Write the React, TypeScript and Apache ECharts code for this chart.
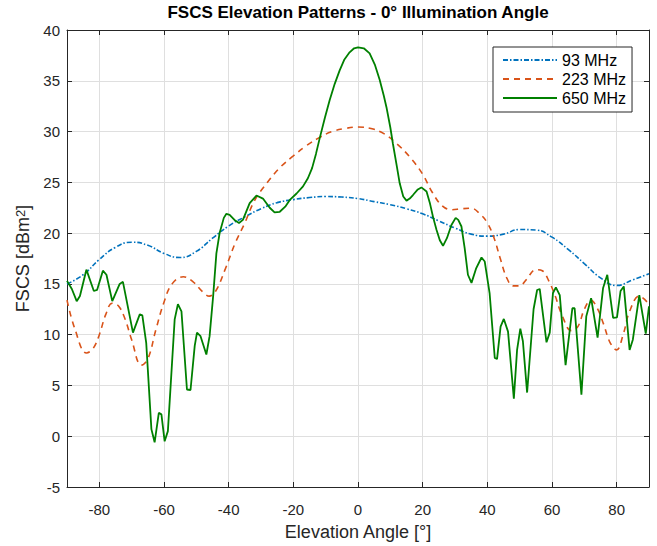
import React, { useEffect, useRef } from "react";
import * as echarts from "echarts";

const xTicks = [-80, -60, -40, -20, 0, 20, 40, 60, 80];

const angles93 = [-90, -85, -80, -75, -70, -65, -60, -55, -50, -45, -40, -35, -30, -25, -20, -15, -10, -5, 0, 5, 10, 15, 20, 25, 30, 35, 40, 45, 50, 55, 60, 65, 70, 75, 80, 85, 90];
const fscs93 = [15.0, 15.9, 17.4, 18.6, 19.1, 18.8, 18.0, 17.6, 18.2, 19.5, 20.7, 21.6, 22.4, 23.0, 23.3, 23.5, 23.6, 23.55, 23.4, 23.1, 22.8, 22.4, 21.9, 21.2, 20.5, 19.9, 19.7, 19.9, 20.35, 20.3, 19.6, 18.4, 17.0, 15.6, 14.85, 15.4, 16.0];

const angles223 = [-90, -87.5, -84, -82, -80, -78, -76, -74, -72, -70, -67, -65, -62.5, -60, -57.5, -54, -51, -48, -46, -44, -41, -38, -35, -32, -28, -24, -20, -16, -12, -8, -4, 0, 4, 8, 12, 16, 20, 23, 26, 29, 32, 35, 38, 40, 42, 44, 46, 48, 50, 52, 55, 57, 59, 61, 63, 66, 68, 70, 72, 74, 76, 78, 80, 82, 84, 87, 90];
const fscs223 = [13.4, 10.5, 8.2, 8.6, 10.0, 12.0, 13.1, 12.8, 11.5, 9.5, 7.0, 7.6, 10.5, 13.2, 15.0, 15.7, 15.2, 14.2, 13.8, 14.3, 16.5, 19.0, 21.0, 23.2, 25.0, 26.5, 27.6, 28.6, 29.4, 30.0, 30.3, 30.45, 30.3, 29.8, 28.8, 27.5, 25.8, 24.0, 22.7, 22.3, 22.4, 22.45, 21.8, 21.0, 19.6, 17.5, 15.6, 14.8, 14.8, 15.4, 16.4, 16.3, 15.3, 13.8, 12.0, 10.4, 10.8, 12.5, 13.4, 12.6, 11.0, 9.2, 8.5, 10.0, 12.3, 13.8, 13.0];

const angles650 = [-90, -88.5, -87, -86, -84, -81.7, -80.7, -78.9, -77.8, -76, -73.7, -72.7, -69.6, -67.5, -66.7, -65.5, -63.9, -62.9, -61.6, -60.8, -59.8, -58.8, -56.7, -55.7, -54.6, -52.9, -51.8, -50.5, -49.8, -48.7, -46.9, -45.9, -44.8, -43.8, -42.8, -41.5, -40.7, -39.7, -38.2, -36.8, -35.6, -33.5, -31.4, -29.4, -27.3, -25.8, -24.2, -22.5, -21, -19, -17, -15.5, -14.2, -13, -11.8, -10.2, -8.75, -7.2, -5.7, -4.2, -2.6, -1.2, 0, 1.8, 3.6, 5.2, 6.7, 8.0, 8.8, 10.0, 10.8, 12.0, 12.9, 14, 15.0, 16, 17.0, 18.5, 19.6, 21.2, 22.2, 23.2, 24.3, 25.3, 26.3, 27.5, 28.9, 30.2, 31, 32.0, 33, 34.0, 35.1, 36.5, 38.2, 39.2, 40.7, 42.3, 43.0, 44.1, 45.1, 46.4, 48.2, 49.2, 50.2, 51.0, 52.3, 54.3, 55.4, 56.2, 58.3, 59.3, 60.3, 61.2, 62.4, 64.2, 66.3, 67.0, 69.1, 70.6, 72.1, 74.1, 75.8, 77.1, 78.9, 80.1, 81.2, 82.2, 84.0, 85.0, 87.0, 89.0, 90];
const fscs650 = [15.3, 14.5, 13.3, 13.8, 16.4, 14.3, 14.4, 16.3, 15.9, 13.3, 15.0, 15.2, 10.2, 12.0, 11.9, 9.2, 0.7, -0.6, 2.3, 2.15, -0.5, 0.5, 11.5, 13.0, 12.3, 4.6, 4.55, 8.9, 10.2, 9.85, 8.05, 9.85, 13.8, 18.0, 20.0, 21.5, 21.9, 21.8, 21.3, 21.0, 21.3, 22.95, 23.7, 23.4, 22.5, 22.05, 22.1, 22.6, 23.3, 23.9, 24.6, 25.4, 26.4, 27.8, 29.4, 31.4, 33.1, 34.7, 36.0, 37.1, 37.8, 38.2, 38.3, 38.2, 37.7, 36.6, 35.1, 33.5, 32.4, 30.4, 28.8, 26.6, 24.9, 23.6, 23.2, 23.4, 23.75, 24.3, 24.5, 24.1, 23.0, 21.6, 20.3, 19.3, 18.75, 19.5, 20.8, 21.5, 21.3, 20.65, 18.5, 15.9, 15.1, 16.5, 17.6, 17.2, 14.1, 7.7, 7.6, 10.8, 11.55, 10.3, 3.7, 8.5, 10.6, 9.35, 4.3, 12.5, 14.4, 14.5, 9.25, 10.2, 14.1, 14.65, 13.9, 7.0, 12.6, 12.6, 4.1, 11.8, 13.6, 9.7, 14.6, 15.9, 11.65, 11.7, 14.3, 14.75, 8.5, 9.5, 13.9, 10.1, 12.8];

const seriesNames = ["93 MHz", "223 MHz", "650 MHz"];

const zip = (xs: number[], ys: number[]) => xs.map((x, i) => [x, ys[i]]);

const font = "'Liberation Sans', Arial, Helvetica, sans-serif";
const axisColor = "#262626";
const gridColor = "#dfdfdf";

export default function App() {
  const ref = useRef<HTMLDivElement>(null);
  useEffect(() => {
    document.body.style.margin = "0";
    const chart = echarts.init(ref.current!, null, { renderer: "svg" });
    const baseX: any = {
      type: "value",
      min: -90,
      max: 90,
      axisLine: { show: true, onZero: false, lineStyle: { color: axisColor, width: 1 } },
      axisTick: { show: true, inside: true, length: 5, customValues: xTicks, lineStyle: { color: axisColor } },
    };
    const baseY: any = {
      type: "value",
      min: -5,
      max: 40,
      interval: 5,
      axisLine: { show: true, onZero: false, lineStyle: { color: axisColor, width: 1 } },
      axisTick: { show: true, inside: true, length: 5, lineStyle: { color: axisColor } },
    };
    const option: any = {
      animation: false,
      backgroundColor: "#fff",
      textStyle: { fontFamily: font },
      title: {
        text: "FSCS Elevation Patterns - 0° Illumination Angle",
        left: 358,
        top: 4,
        textAlign: "center",
        padding: 0,
        textStyle: { fontSize: 17, fontWeight: "bold", color: "#000", fontFamily: font },
      },
      grid: { left: 67, right: 8, top: 30, bottom: 58, containLabel: false },
      legend: {
        data: seriesNames,
        orient: "vertical",
        left: 493,
        top: 47,
        padding: [5, 6, 6, 9],
        itemWidth: 54,
        itemHeight: 14,
        itemGap: 3,
        backgroundColor: "#fff",
        borderColor: axisColor,
        borderWidth: 1,
        borderRadius: 0,
        itemStyle: { opacity: 0, borderWidth: 0 },
        textStyle: { fontSize: 16, lineHeight: 16, color: "#000", fontFamily: font },
      },
      xAxis: [
        {
          ...baseX,
          position: "bottom",
          axisLabel: { customValues: xTicks, margin: 15, fontSize: 15, color: axisColor, fontFamily: font },
          splitLine: { show: true, lineStyle: { color: gridColor, width: 1 } },
          name: "Elevation Angle [°]",
          nameLocation: "middle",
          nameGap: 36,
          nameTextStyle: { fontSize: 18, color: axisColor, fontFamily: font },
        },
        {
          ...baseX,
          position: "top",
          axisLabel: { show: false },
          splitLine: { show: false },
        },
      ],
      yAxis: [
        {
          ...baseY,
          position: "left",
          axisLabel: { margin: 7, fontSize: 15, color: axisColor, fontFamily: font },
          splitLine: { show: true, lineStyle: { color: gridColor, width: 1 } },
          name: "FSCS [dBm{sup|2}]",
          nameLocation: "middle",
          nameRotate: 90,
          nameGap: 30,
          nameTextStyle: {
            fontSize: 18,
            color: axisColor,
            fontFamily: font,
            rich: { sup: { fontSize: 13, color: axisColor, fontFamily: font, verticalAlign: "top", lineHeight: 13 } },
          },
        },
        {
          ...baseY,
          position: "right",
          axisLabel: { show: false },
          splitLine: { show: false },
        },
      ],
      series: [
        {
          type: "line",
          name: seriesNames[0],
          data: zip(angles93, fscs93),
          smooth: 0.5,
          symbol: "none",
          lineStyle: { color: "#0072BD", width: 1.6, type: [5, 2, 1.5, 2] },
          itemStyle: { color: "#0072BD" },
        },
        {
          type: "line",
          name: seriesNames[1],
          data: zip(angles223, fscs223),
          smooth: 0.4,
          symbol: "none",
          lineStyle: { color: "#D95319", width: 1.6, type: [6, 5] },
          itemStyle: { color: "#D95319" },
        },
        {
          type: "line",
          name: seriesNames[2],
          data: zip(angles650, fscs650),
          smooth: false,
          symbol: "none",
          lineStyle: { color: "#008000", width: 1.8 },
          itemStyle: { color: "#008000" },
        },
      ],
    };
    chart.setOption(option);
    return () => chart.dispose();
  }, []);
  return <div ref={ref} style={{ position: "absolute", left: 0, top: 0, width: 657, height: 546 }} />;
}
